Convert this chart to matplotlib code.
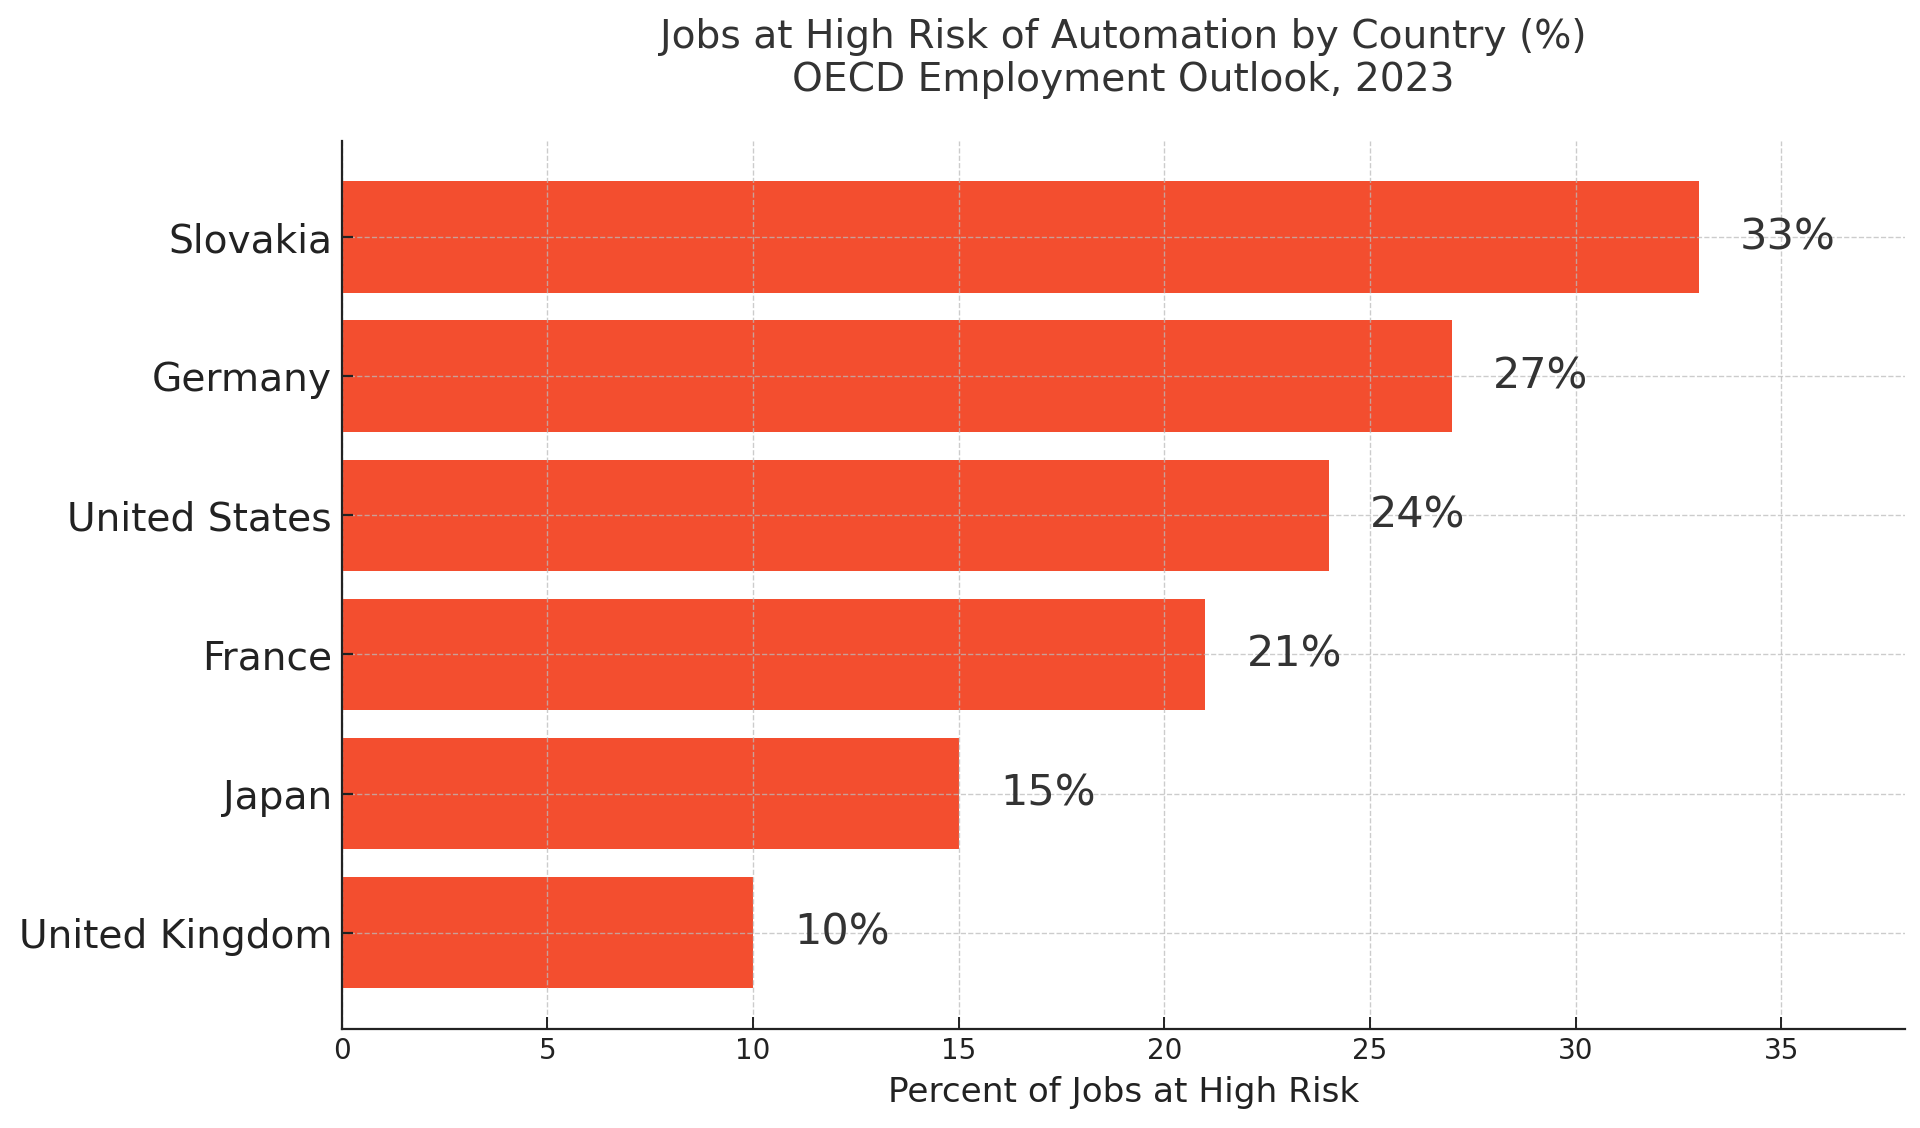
import matplotlib
matplotlib.use('Agg')
import matplotlib.pyplot as plt

# ── Data ──────────────────────────────────────────────────────────────────────
countries = ['United Kingdom', 'Japan', 'France', 'United States', 'Germany', 'Slovakia']
risk_pct  = [10, 15, 21, 24, 27, 33]

BAR_COLOR  = '#f34e2f'
TEXT_COLOR = '#333333'
AXIS_COLOR = '#222222'

fig = plt.figure(figsize=(19.2, 11.28), dpi=100)
ax = fig.add_axes([0.178, 0.088, 0.814, 0.787])

ax.barh(countries, risk_pct, height=0.8, color=BAR_COLOR, zorder=1)
for i, v in enumerate(risk_pct):
    ax.text(v + 1, i, f'{v}%', va='center', ha='left', fontsize=31, color=TEXT_COLOR)

ax.set_xlim(0, 38)
ax.set_xticks(range(0, 40, 5))
ax.grid(True, linestyle='--', color='#bbbbbb', linewidth=1.0, alpha=0.75)
ax.set_axisbelow(False)

for s in ['top', 'right']:
    ax.spines[s].set_visible(False)
for s in ['left', 'bottom']:
    ax.spines[s].set_linewidth(1.6)
    ax.spines[s].set_color(AXIS_COLOR)
    ax.spines[s].set_zorder(4)

ax.tick_params(axis='y', labelsize=28.2, direction='in', length=8, width=1.6,
               colors=AXIS_COLOR, pad=7)
ax.tick_params(axis='x', labelsize=20, direction='in', length=9, width=1.4,
               colors=AXIS_COLOR, pad=6)
ax.set_xlabel('Percent of Jobs at High Risk', fontsize=24.7, color=AXIS_COLOR, labelpad=8)
ax.set_title('Jobs at High Risk of Automation by Country (%)\nOECD Employment Outlook, 2023',
             fontsize=28.2, color=TEXT_COLOR, pad=36, linespacing=1.17)

fig.savefig('out.png', dpi=100)
